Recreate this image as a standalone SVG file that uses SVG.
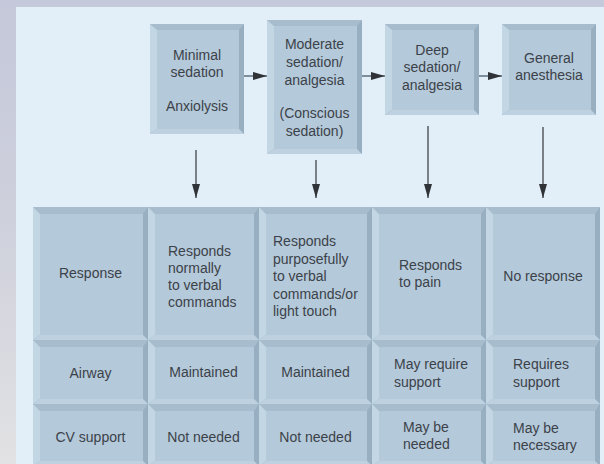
<svg xmlns="http://www.w3.org/2000/svg" width="604" height="464" viewBox="0 0 604 464">
<defs>
<linearGradient id="leftStrip" x1="0" y1="0" x2="0" y2="1">
<stop offset="0" stop-color="#c4c8da"/>
<stop offset="0.5" stop-color="#cfd1dc"/>
<stop offset="1" stop-color="#e2e2e4"/>
</linearGradient>
<marker id="ah" markerUnits="userSpaceOnUse" markerWidth="14" markerHeight="8" refX="14" refY="4" orient="auto">
<path d="M0,0 L14,4 L0,8 Z" fill="#2f3337"/>
</marker>
<style>
.face{fill:#b4c9da}
.bt{fill:#a7bdce}
.bl{fill:#c3d6e4}
.br{fill:#98aec1}
.bb{fill:#bed1e0}
text{font-family:"Liberation Sans",Arial,sans-serif;font-size:14px;fill:#3c4249}
.c{text-anchor:middle}
.h{stroke:#7e8e9b;stroke-width:2;fill:none;marker-end:url(#ah)}
.v{stroke:#33373b;stroke-width:1.2;fill:none;marker-end:url(#ah)}
</style>
</defs>
<rect x="0" y="0" width="604" height="464" fill="#c4c9db"/>
<rect x="0" y="0" width="16" height="464" fill="url(#leftStrip)"/>
<rect x="16" y="7" width="588" height="457" fill="#e2eef8"/>

<g id="box-minimal">
<rect class="br" x="150" y="24" width="94" height="110"/>
<polygon class="bb" points="150,134 244,134 239,129 157,129"/>
<polygon class="bt" points="150,24 244,24 239,30 157,30"/>
<polygon class="bl" points="150,24 157,30 157,129 150,134"/>
<rect class="face" x="157" y="30" width="82" height="99"/>
<text class="c" x="197" y="60">Minimal</text>
<text class="c" x="197" y="77">sedation</text>
<text class="c" x="197" y="111">Anxiolysis</text>
</g>

<g id="box-moderate">
<rect class="br" x="267" y="20" width="95" height="134"/>
<polygon class="bb" points="267,154 362,154 357,149 274,149"/>
<polygon class="bt" points="267,20 362,20 357,26 274,26"/>
<polygon class="bl" points="267,20 274,26 274,149 267,154"/>
<rect class="face" x="274" y="26" width="83" height="123"/>
<text class="c" x="314.5" y="49">Moderate</text>
<text class="c" x="314.5" y="67">sedation/</text>
<text class="c" x="314.5" y="85">analgesia</text>
<text class="c" x="314.5" y="118">(Conscious</text>
<text class="c" x="314.5" y="136">sedation)</text>
</g>

<g id="box-deep">
<rect class="br" x="385" y="24" width="94" height="91"/>
<polygon class="bb" points="385,115 479,115 474,110 392,110"/>
<polygon class="bt" points="385,24 479,24 474,30 392,30"/>
<polygon class="bl" points="385,24 392,30 392,110 385,115"/>
<rect class="face" x="392" y="30" width="82" height="80"/>
<text class="c" x="432" y="55">Deep</text>
<text class="c" x="432" y="72">sedation/</text>
<text class="c" x="432" y="90">analgesia</text>
</g>

<g id="box-general">
<rect class="br" x="502" y="24" width="94" height="91"/>
<polygon class="bb" points="502,115 596,115 591,110 509,110"/>
<polygon class="bt" points="502,24 596,24 591,30 509,30"/>
<polygon class="bl" points="502,24 509,30 509,110 502,115"/>
<rect class="face" x="509" y="30" width="82" height="80"/>
<text class="c" x="549" y="63">General</text>
<text class="c" x="549" y="80">anesthesia</text>
</g>

<g id="connectors">
<path class="h" d="M244,76 H267"/>
<path class="h" d="M362,76 H385"/>
<path class="h" d="M479,76 H502"/>
<path class="v" d="M196,150 V198"/>
<path class="v" d="M316,160 V198"/>
<path class="v" d="M428,126 V198"/>
<path class="v" d="M543,127 V198"/>
</g>

<g id="table">
<rect x="33" y="207" width="567" height="257" fill="#cfe0ec"/>

<g id="cell-r1c1">
<rect class="br" x="33" y="207" width="115" height="133"/>
<polygon class="bb" points="33,340 148,340 143,335 40,335"/>
<polygon class="bt" points="33,207 148,207 143,214 40,214"/>
<polygon class="bl" points="33,207 40,214 40,335 33,340"/>
<rect class="face" x="40" y="214" width="103" height="121"/>
<text class="c" x="90.5" y="278">Response</text>
</g>
<g id="cell-r1c2">
<rect class="br" x="148" y="207" width="111" height="133"/>
<polygon class="bb" points="148,340 259,340 254,335 155,335"/>
<polygon class="bt" points="148,207 259,207 254,214 155,214"/>
<polygon class="bl" points="148,207 155,214 155,335 148,340"/>
<rect class="face" x="155" y="214" width="99" height="121"/>
<text x="168" y="256">Responds</text>
<text x="168" y="273">normally</text>
<text x="168" y="290">to verbal</text>
<text x="168" y="307">commands</text>
</g>
<g id="cell-r1c3">
<rect class="br" x="259" y="207" width="113" height="133"/>
<polygon class="bb" points="259,340 372,340 367,335 266,335"/>
<polygon class="bt" points="259,207 372,207 367,214 266,214"/>
<polygon class="bl" points="259,207 266,214 266,335 259,340"/>
<rect class="face" x="266" y="214" width="101" height="121"/>
<text x="273" y="246">Responds</text>
<text x="273" y="263.5">purposefully</text>
<text x="273" y="281">to verbal</text>
<text x="273" y="298.5">commands/or</text>
<text x="273" y="316">light touch</text>
</g>
<g id="cell-r1c4">
<rect class="br" x="372" y="207" width="114" height="133"/>
<polygon class="bb" points="372,340 486,340 481,335 379,335"/>
<polygon class="bt" points="372,207 486,207 481,214 379,214"/>
<polygon class="bl" points="372,207 379,214 379,335 372,340"/>
<rect class="face" x="379" y="214" width="102" height="121"/>
<text x="399" y="270">Responds</text>
<text x="399" y="287">to pain</text>
</g>
<g id="cell-r1c5">
<rect class="br" x="486" y="207" width="114" height="133"/>
<polygon class="bb" points="486,340 600,340 595,335 493,335"/>
<polygon class="bt" points="486,207 600,207 595,214 493,214"/>
<polygon class="bl" points="486,207 493,214 493,335 486,340"/>
<rect class="face" x="493" y="214" width="102" height="121"/>
<text class="c" x="543" y="281">No response</text>
</g>

<g id="cell-r2c1">
<rect class="br" x="33" y="340" width="115" height="64"/>
<polygon class="bb" points="33,404 148,404 143,399 40,399"/>
<polygon class="bt" points="33,340 148,340 143,347 40,347"/>
<polygon class="bl" points="33,340 40,347 40,399 33,404"/>
<rect class="face" x="40" y="347" width="103" height="52"/>
<text class="c" x="90.5" y="378">Airway</text>
</g>
<g id="cell-r2c2">
<rect class="br" x="148" y="340" width="111" height="64"/>
<polygon class="bb" points="148,404 259,404 254,399 155,399"/>
<polygon class="bt" points="148,340 259,340 254,347 155,347"/>
<polygon class="bl" points="148,340 155,347 155,399 148,404"/>
<rect class="face" x="155" y="347" width="99" height="52"/>
<text class="c" x="203.5" y="377">Maintained</text>
</g>
<g id="cell-r2c3">
<rect class="br" x="259" y="340" width="113" height="64"/>
<polygon class="bb" points="259,404 372,404 367,399 266,399"/>
<polygon class="bt" points="259,340 372,340 367,347 266,347"/>
<polygon class="bl" points="259,340 266,347 266,399 259,404"/>
<rect class="face" x="266" y="347" width="101" height="52"/>
<text class="c" x="315.5" y="377">Maintained</text>
</g>
<g id="cell-r2c4">
<rect class="br" x="372" y="340" width="114" height="64"/>
<polygon class="bb" points="372,404 486,404 481,399 379,399"/>
<polygon class="bt" points="372,340 486,340 481,347 379,347"/>
<polygon class="bl" points="372,340 379,347 379,399 372,404"/>
<rect class="face" x="379" y="347" width="102" height="52"/>
<text x="394" y="369">May require</text>
<text x="394" y="387">support</text>
</g>
<g id="cell-r2c5">
<rect class="br" x="486" y="340" width="114" height="64"/>
<polygon class="bb" points="486,404 600,404 595,399 493,399"/>
<polygon class="bt" points="486,340 600,340 595,347 493,347"/>
<polygon class="bl" points="486,340 493,347 493,399 486,404"/>
<rect class="face" x="493" y="347" width="102" height="52"/>
<text x="513" y="369">Requires</text>
<text x="513" y="387">support</text>
</g>

<g id="cell-r3c1">
<rect class="br" x="33" y="404" width="115" height="62"/>
<polygon class="bb" points="33,466 148,466 143,461 40,461"/>
<polygon class="bt" points="33,404 148,404 143,411 40,411"/>
<polygon class="bl" points="33,404 40,411 40,461 33,466"/>
<rect class="face" x="40" y="411" width="103" height="50"/>
<text class="c" x="90.5" y="442">CV support</text>
</g>
<g id="cell-r3c2">
<rect class="br" x="148" y="404" width="111" height="62"/>
<polygon class="bb" points="148,466 259,466 254,461 155,461"/>
<polygon class="bt" points="148,404 259,404 254,411 155,411"/>
<polygon class="bl" points="148,404 155,411 155,461 148,466"/>
<rect class="face" x="155" y="411" width="99" height="50"/>
<text class="c" x="203.5" y="442">Not needed</text>
</g>
<g id="cell-r3c3">
<rect class="br" x="259" y="404" width="113" height="62"/>
<polygon class="bb" points="259,466 372,466 367,461 266,461"/>
<polygon class="bt" points="259,404 372,404 367,411 266,411"/>
<polygon class="bl" points="259,404 266,411 266,461 259,466"/>
<rect class="face" x="266" y="411" width="101" height="50"/>
<text class="c" x="315.5" y="442">Not needed</text>
</g>
<g id="cell-r3c4">
<rect class="br" x="372" y="404" width="114" height="62"/>
<polygon class="bb" points="372,466 486,466 481,461 379,461"/>
<polygon class="bt" points="372,404 486,404 481,411 379,411"/>
<polygon class="bl" points="372,404 379,411 379,461 372,466"/>
<rect class="face" x="379" y="411" width="102" height="50"/>
<text x="403" y="432">May be</text>
<text x="403" y="449">needed</text>
</g>
<g id="cell-r3c5">
<rect class="br" x="486" y="404" width="114" height="62"/>
<polygon class="bb" points="486,466 600,466 595,461 493,461"/>
<polygon class="bt" points="486,404 600,404 595,411 493,411"/>
<polygon class="bl" points="486,404 493,411 493,461 486,466"/>
<rect class="face" x="493" y="411" width="102" height="50"/>
<text x="513" y="433">May be</text>
<text x="513" y="450">necessary</text>
</g>
</g>
</svg>
